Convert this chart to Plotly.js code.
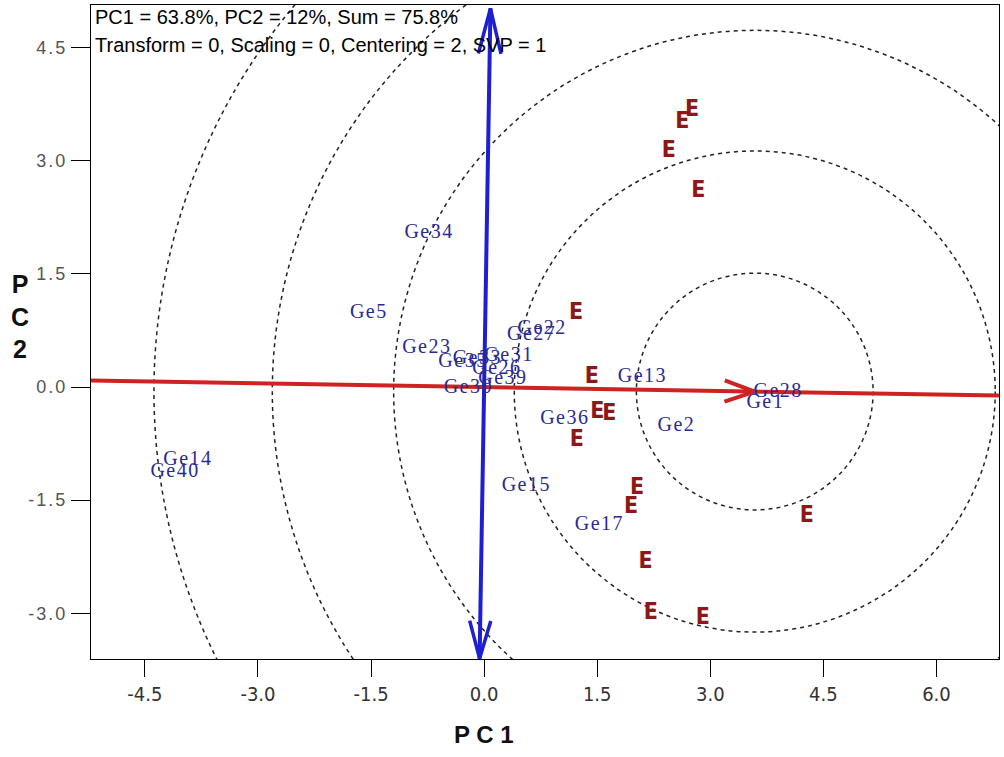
<!DOCTYPE html>
<html>
<head>
<meta charset="utf-8">
<script src="https://cdn.plot.ly/plotly-3.0.1.min.js"></script>
<style>
  html, body { margin: 0; padding: 0; background: #fff; }
  #chart { width: 1004px; height: 757px; }
  .ytick text { letter-spacing: 2px; }
  .trace.scatter:nth-child(6) .textpoint text { letter-spacing: 1.5px; }
</style>
</head>
<body>
<div id="chart"></div>
<script>
// ---- data ----
const genoNames = ["Ge34","Ge5","Ge23","Ge22","Ge27","Ge31","Ge35","Ge33","Ge26","Ge39","Ge30",
                   "Ge13","Ge28","Ge1","Ge36","Ge2","Ge14","Ge40","Ge15","Ge17"];
const genoPC1 = [-0.73,-1.53,-0.76,0.77,0.63,0.33,-0.28,-0.09,0.17,0.25,-0.21,
                 2.10,3.90,3.73,1.07,2.55,-3.93,-4.10,0.56,1.53];
const genoPC2 = [2.04,0.98,0.52,0.77,0.69,0.41,0.33,0.37,0.24,0.10,-0.01,
                 0.13,-0.07,-0.21,-0.42,-0.52,-0.97,-1.13,-1.31,-1.83];

const envNames = ["E","E","E","E","E","E","E","E","E","E","E","E","E","E","E"];
const envPC1 = [2.76,2.63,2.45,2.84,1.22,1.43,1.50,1.66,1.23,2.03,1.95,2.14,2.21,2.90,4.28];
const envPC2 = [3.67,3.51,3.12,2.59,0.98,0.13,-0.34,-0.36,-0.70,-1.34,-1.59,-2.32,-3.00,-3.06,-1.72];

// average-environment (ideal) point: arrow tip and centre of the circles
const idealPoint = [3.59, -0.06];
const circleRadii = [1.57, 3.19, 4.79, 6.40, 7.97];
// ends of the perpendicular (blue) axis, on PC2
const blueEnds = [5.02, -3.60];

const xTickVals = [-4.5,-3.0,-1.5,0.0,1.5,3.0,4.5,6.0];
const xTickText = ["-4.5","-3.0","-1.5","0.0","1.5","3.0","4.5","6.0"];
const yTickVals = [-3.0,-1.5,0.0,1.5,3.0,4.5];
const yTickText = ["-3.0","-1.5","0.0","1.5","3.0","4.5"];

const xRange = [-5.215, 6.83];
const yRange = [-3.607, 5.066];

const infoLine1 = "PC1 = 63.8%, PC2 = 12%, Sum = 75.8%";
const infoLine2 = "Transform = 0, Scaling = 0, Centering = 2, SVP = 1";

// ---- geometry ----
const m = idealPoint[1] / idealPoint[0];           // slope of average-environment axis
const redX = [xRange[0] - 0.5, xRange[1] + 0.5];
const redY = redX.map(v => v * m);
const blueY = blueEnds.slice();
const blueX = blueY.map(v => -m * v);

function arrowHead(tip, dir, L, W) {
  const len = Math.hypot(dir[0], dir[1]);
  const u = [dir[0]/len, dir[1]/len];
  const n = [-u[1], u[0]];
  const b = [tip[0] - L*u[0], tip[1] - L*u[1]];
  return {
    x: [b[0] + W*n[0], tip[0], b[0] - W*n[0]],
    y: [b[1] + W*n[1], tip[1], b[1] - W*n[1]]
  };
}
const redHead = arrowHead(idealPoint, idealPoint, 0.40, 0.14);
const blueTop = arrowHead([blueX[0], blueY[0]], [blueX[0], blueY[0]], 0.60, 0.15);
const blueBot = arrowHead([blueX[1], blueY[1]], [blueX[1], blueY[1]], 0.50, 0.14);

const RED = "#cf2222", BLUE = "#1e1ed2";

const traces = [
  {x: redX, y: redY, mode: "lines", line: {color: RED, width: 4}, hoverinfo: "skip"},
  {x: redHead.x, y: redHead.y, mode: "lines", line: {color: RED, width: 4}, hoverinfo: "skip"},
  {x: blueX, y: blueY, mode: "lines", line: {color: BLUE, width: 4}, hoverinfo: "skip"},
  {x: blueTop.x, y: blueTop.y, mode: "lines", line: {color: BLUE, width: 3.5}, hoverinfo: "skip"},
  {x: blueBot.x, y: blueBot.y, mode: "lines", line: {color: BLUE, width: 3.5}, hoverinfo: "skip"},
  {x: genoPC1, y: genoPC2, text: genoNames, mode: "text", textposition: "middle center",
   textfont: {family: "Liberation Serif, Times New Roman, serif", size: 20, color: "#2a2a92"}},
  {x: envPC1, y: envPC2, text: envNames, mode: "text", textposition: "middle center",
   textfont: {family: "Liberation Sans Narrow, DejaVu Sans Condensed, Arial Narrow, sans-serif", size: 23, color: "#8e1818", weight: "bold"}}
];

const shapes = circleRadii.map(r => ({
  type: "circle", xref: "x", yref: "y", layer: "below",
  x0: idealPoint[0] - r, x1: idealPoint[0] + r,
  y0: idealPoint[1] - r, y1: idealPoint[1] + r,
  line: {color: "#222", width: 1.5, dash: "4px,4px"}
}));

const layout = {
  width: 1004, height: 757,
  margin: {l: 91, r: 5, t: 5, b: 98},
  paper_bgcolor: "#fff", plot_bgcolor: "#fff",
  showlegend: false,
  xaxis: {
    range: xRange, tickvals: xTickVals, ticktext: xTickText,
    ticks: "outside", ticklen: 17, tickwidth: 1, tickcolor: "#000",
    showline: true, linecolor: "#000", linewidth: 1, mirror: true,
    showgrid: false, zeroline: false,
    tickfont: {family: "Liberation Sans Narrow, DejaVu Sans Condensed, Arial Narrow, sans-serif", size: 20, color: "#333"}
  },
  yaxis: {
    range: yRange, tickvals: yTickVals, ticktext: yTickText,
    ticks: "outside", ticklen: 19, tickwidth: 1, tickcolor: "#000",
    showline: true, linecolor: "#000", linewidth: 1, mirror: true,
    showgrid: false, zeroline: false,
    tickfont: {family: "Liberation Sans, Arial, sans-serif", size: 18, color: "#555"}
  },
  shapes: shapes,
  annotations: [
    {text: infoLine1, xref: "paper", yref: "paper", x: 0.002, y: 0.982, xanchor: "left", yanchor: "middle",
     showarrow: false, font: {family: "Liberation Sans, Arial, sans-serif", size: 20, color: "#000"}},
    {text: infoLine2, xref: "paper", yref: "paper", x: 0.002, y: 0.939, xanchor: "left", yanchor: "middle",
     showarrow: false, font: {family: "Liberation Sans, Arial, sans-serif", size: 20, color: "#000"}},
    {text: "<b>P C 1</b>", xref: "paper", yref: "paper", x: 0.433, y: -0.116, xanchor: "center", yanchor: "middle",
     showarrow: false, font: {family: "Liberation Sans, Arial, sans-serif", size: 24, color: "#111"}},
    {text: "<b>P<br>C<br>2</b>", xref: "paper", yref: "paper", x: -0.078, y: 0.524, xanchor: "center", yanchor: "middle",
     showarrow: false, font: {family: "Liberation Sans, Arial, sans-serif", size: 25, color: "#111"}}
  ]
};

Plotly.newPlot("chart", traces, layout, {displayModeBar: false, staticPlot: true});
</script>
</body>
</html>
